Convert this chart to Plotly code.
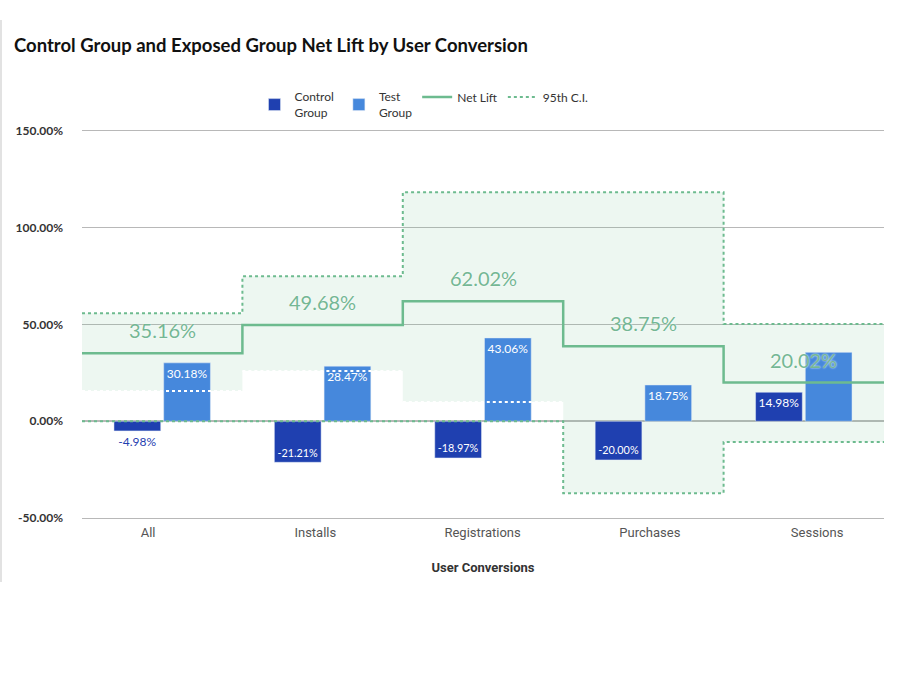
import plotly.graph_objects as go

# ---------------- data ----------------
categories = ["All", "Installs", "Registrations", "Purchases", "Sessions"]
control_group = [-4.98, -21.21, -18.97, -20.00, 14.98]
test_group = [30.18, 28.47, 43.06, 18.75, 35.6]
test_label_visible = [True, True, True, True, False]
net_lift = [35.16, 49.68, 62.02, 38.75, 20.02]
ci_upper = [55.8, 74.9, 118.3, 118.3, 50.3]
ci_lower = [15.6, 26.0, 10.0, -37.2, -10.7]
y_ticks = [-50, 0, 50, 100, 150]

# ---------------- style ----------------
C_CONTROL = "#1f40b0"
C_TEST = "#4688dc"
C_GREEN = "#6dbb8f"
C_FILL = "rgba(109,191,143,0.12)"
C_GRID = "#b8b8b8"
FONT = "Lato"
NARROW = "Liberation Sans Narrow, Roboto, sans-serif"

n = len(categories)
idx = list(range(n))
edges = [i - 0.5 for i in idx] + [n - 0.5]


def step(vals):
    return vals + [vals[-1]]


fig = go.Figure()

# CI band (bottom layer, axis y)
fig.add_trace(go.Scatter(x=edges, y=step(ci_lower), mode="lines", line=dict(width=0, shape="hv"),
                         showlegend=False, hoverinfo="skip", yaxis="y"))
fig.add_trace(go.Scatter(x=edges, y=step(ci_upper), mode="lines", line=dict(width=0, shape="hv"),
                         fill="tonexty", fillcolor=C_FILL, showlegend=False, hoverinfo="skip", yaxis="y"))

# dummy trace carrying the category tick labels
fig.add_trace(go.Scatter(x=categories, y=[None] * n, mode="markers", xaxis="x2", yaxis="y",
                         showlegend=False, hoverinfo="skip"))

# Bars (middle layer, axis y2)
ctrl_pos = ["outside" if abs(v) < 8 else "inside" for v in control_group]
fig.add_trace(go.Bar(
    x=idx, y=control_group, name="Control<br>Group", marker_color=C_CONTROL, yaxis="y2",
    text=[f"{v:.2f}%" for v in control_group], textposition=ctrl_pos, insidetextanchor="end",
    insidetextfont=dict(color="white", size=12, family=FONT),
    outsidetextfont=dict(color=C_CONTROL, size=12, family=FONT), cliponaxis=False,
))
fig.add_trace(go.Bar(
    x=idx, y=test_group, name="Test<br>Group", marker_color=C_TEST, yaxis="y2",
    text=[f"{v:.2f}%" if s else "" for v, s in zip(test_group, test_label_visible)],
    textposition="inside", insidetextanchor="end",
    insidetextfont=dict(color="white", size=12, family=FONT), cliponaxis=False,
))

# Lines (top layer, axis y3)
fig.add_trace(go.Scatter(x=edges, y=step(net_lift), mode="lines", name="Net Lift",
                         line=dict(color=C_GREEN, width=2.5, shape="hv"), yaxis="y3"))
fig.add_trace(go.Scatter(x=edges, y=step(ci_upper), mode="lines", name="95th C.I.",
                         line=dict(color=C_GREEN, width=2, dash="dot", shape="hv"), yaxis="y3"))
lower_neg = [min(v, 0) for v in ci_lower]
fig.add_trace(go.Scatter(x=edges, y=step(lower_neg), mode="lines", showlegend=False,
                         line=dict(color=C_GREEN, width=2, dash="dot", shape="hv"), yaxis="y3",
                         hoverinfo="skip"))
seg_x, seg_y = [], []
for i, v in zip(idx, ci_lower):
    if v > 0:
        seg_x += [i - 0.5, i + 0.5, None]
        seg_y += [v, v, None]
fig.add_trace(go.Scatter(x=seg_x, y=seg_y, mode="lines", showlegend=False,
                         line=dict(color="white", width=2, dash="dot"), yaxis="y3", hoverinfo="skip"))

annotations = [
    dict(x=i, y=v, xref="x", yref="y3", text=f"{v:.2f}%", showarrow=False,
         yanchor="bottom", yshift=9,
         font=dict(color="#74b794", size=20, family=FONT, shadow="0px 0px 2px #ffffff"))
    for i, v in zip(idx, net_lift)
]

yrange = [-50, 150]
fig.update_layout(
    width=910, height=678,
    margin=dict(l=82, r=26, t=131, b=160, autoexpand=False),
    paper_bgcolor="white", plot_bgcolor="white",
    title=dict(text="<b>Control Group and Exposed Group Net Lift by User Conversion</b>",
               x=14 / 910, xanchor="left", y=1 - 46 / 678, yanchor="middle",
               xref="container", yref="container",
               font=dict(family=FONT, size=18.5, color="#111")),
    barmode="group", bargap=0.38, bargroupgap=0.06,
    showlegend=True,
    legend=dict(orientation="h", xref="container", yref="container", traceorder="normal",
                x=424 / 910, xanchor="center", y=1 - 82.5 / 678, yanchor="top",
                font=dict(family=FONT, size=12, color="#333"), itemwidth=30,
                tracegroupgap=0, bgcolor="rgba(0,0,0,0)"),
    xaxis=dict(range=[-0.5, n - 0.5], showticklabels=False, showgrid=False, zeroline=False,
               ticks="", showline=True, linecolor=C_GRID, linewidth=1.3, mirror=True),
    xaxis2=dict(type="category", categoryarray=categories, overlaying="x", side="bottom",
                range=[-0.395, 4.4], showgrid=False, zeroline=False, ticks="", showline=False,
                ticklabelstandoff=5,
                tickfont=dict(family=NARROW, size=13, color="#555"),
                title=dict(text="<b>User Conversions</b>", standoff=23,
                           font=dict(family=NARROW, size=13, color="#333"))),
    yaxis=dict(range=yrange, tickvals=y_ticks, ticktext=[f"{v:.2f}%" for v in y_ticks],
               tickfont=dict(family=FONT, size=12, color="#333", weight="bold"),
               showgrid=True, gridcolor=C_GRID, gridwidth=1, zeroline=True,
               zerolinecolor=C_GRID, zerolinewidth=1.5, ticklabelstandoff=18,
               showline=False),
    yaxis2=dict(range=yrange, overlaying="y", visible=False),
    yaxis3=dict(range=yrange, overlaying="y", visible=False),
    annotations=annotations,
    shapes=[dict(type="line", xref="paper", yref="paper", x0=-81 / 802, x1=-81 / 802,
                 y0=(518 - 20) / 387, y1=(518 - 582) / 387,
                 line=dict(color="#d8d8d8", width=1.5))],
)

fig.write_html("out.html", config={"displayModeBar": False},
               post_script="document.body.style.margin='0px';")
